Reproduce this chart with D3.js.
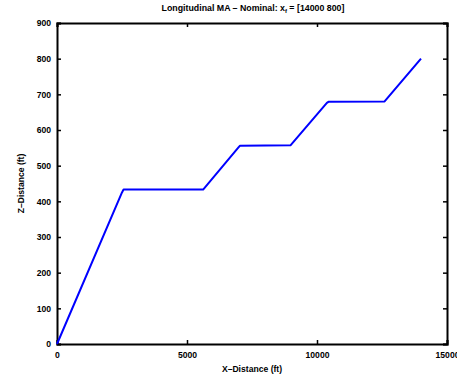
<!DOCTYPE html>
<html>
<head>
<meta charset="utf-8">
<script src="https://cdn.jsdelivr.net/npm/d3@7"></script>
<style>
  html, body { margin: 0; padding: 0; background: #fff; }
  svg { display: block; }
  text { font-family: "Liberation Sans", Arial, Helvetica, sans-serif; font-weight: bold; fill: #000; }
</style>
</head>
<body>
<svg id="chart" width="457" height="379"></svg>
<script>
// Trajectory: horizontal distance vs. altitude (ft)
const xDist = [0, 2500, 2560, 5620, 6980, 7040, 8980, 10380, 10440, 12600, 14000];
const zDist = [0, 425, 433, 433, 551, 556, 557, 676, 679, 680, 800];

const xTicks = [0, 5000, 10000, 15000];
const yTicks = [0, 100, 200, 300, 400, 500, 600, 700, 800, 900];

const svg = d3.select("#chart");
const plotLeft = 57, plotRight = 447, plotTop = 23, plotBottom = 344;

const x = d3.scaleLinear().domain([0, 15000]).range([plotLeft, plotRight]);
const y = d3.scaleLinear().domain([0, 900]).range([plotBottom, plotTop]);

// Axes with inward ticks on all four sides
const fontSize = 8.6;
const bottomAxis = d3.axisBottom(x).tickValues(xTicks).tickSize(-4).tickPadding(8).tickFormat(d3.format("d"));
const leftAxis = d3.axisLeft(y).tickValues(yTicks).tickSize(-4).tickPadding(6).tickFormat(d3.format("d"));
const topAxis = d3.axisTop(x).tickValues(xTicks).tickSize(-4).tickFormat("");
const rightAxis = d3.axisRight(y).tickValues(yTicks).tickSize(-4).tickFormat("");

function style(g) {
  g.select(".domain").attr("stroke", "#000").attr("stroke-width", 2);
  g.selectAll(".tick line").attr("stroke", "#000").attr("stroke-width", 1.5);
  g.selectAll(".tick text").attr("font-size", fontSize).attr("font-weight", "bold")
    .attr("font-family", "'Liberation Sans', Arial, sans-serif");
}

svg.append("g").attr("transform", `translate(0,${plotBottom})`).call(bottomAxis).call(style);
svg.append("g").attr("transform", `translate(${plotLeft},0)`).call(leftAxis).call(style);
svg.append("g").attr("transform", `translate(0,${plotTop})`).call(topAxis).call(style);
svg.append("g").attr("transform", `translate(${plotRight},0)`).call(rightAxis).call(style);

// Path
const line = d3.line().x((d, i) => x(xDist[i])).y((d, i) => y(zDist[i]));
svg.append("path")
  .datum(xDist)
  .attr("d", line)
  .attr("fill", "none")
  .attr("stroke", "#0000ff")
  .attr("stroke-width", 2)
  .attr("stroke-linejoin", "round");

// Title
const title = svg.append("text")
  .attr("x", (plotLeft + plotRight) / 2 + 1)
  .attr("y", 11)
  .attr("text-anchor", "middle")
  .attr("font-size", 8.8);
title.append("tspan").text("Longitudinal MA \u2013 Nominal: x");
title.append("tspan").attr("font-size", 6).attr("dy", 2).text("f");
title.append("tspan").attr("dy", -2).text(" = [14000 800]");

// Axis labels
svg.append("text")
  .attr("x", (plotLeft + plotRight) / 2)
  .attr("y", 372)
  .attr("text-anchor", "middle")
  .attr("font-size", 8.6)
  .text("X\u2013Distance (ft)");

svg.append("text")
  .attr("transform", `translate(24,${(plotTop + plotBottom) / 2}) rotate(-90)`)
  .attr("text-anchor", "middle")
  .attr("font-size", 8.6)
  .text("Z\u2013Distance (ft)");
</script>
</body>
</html>
